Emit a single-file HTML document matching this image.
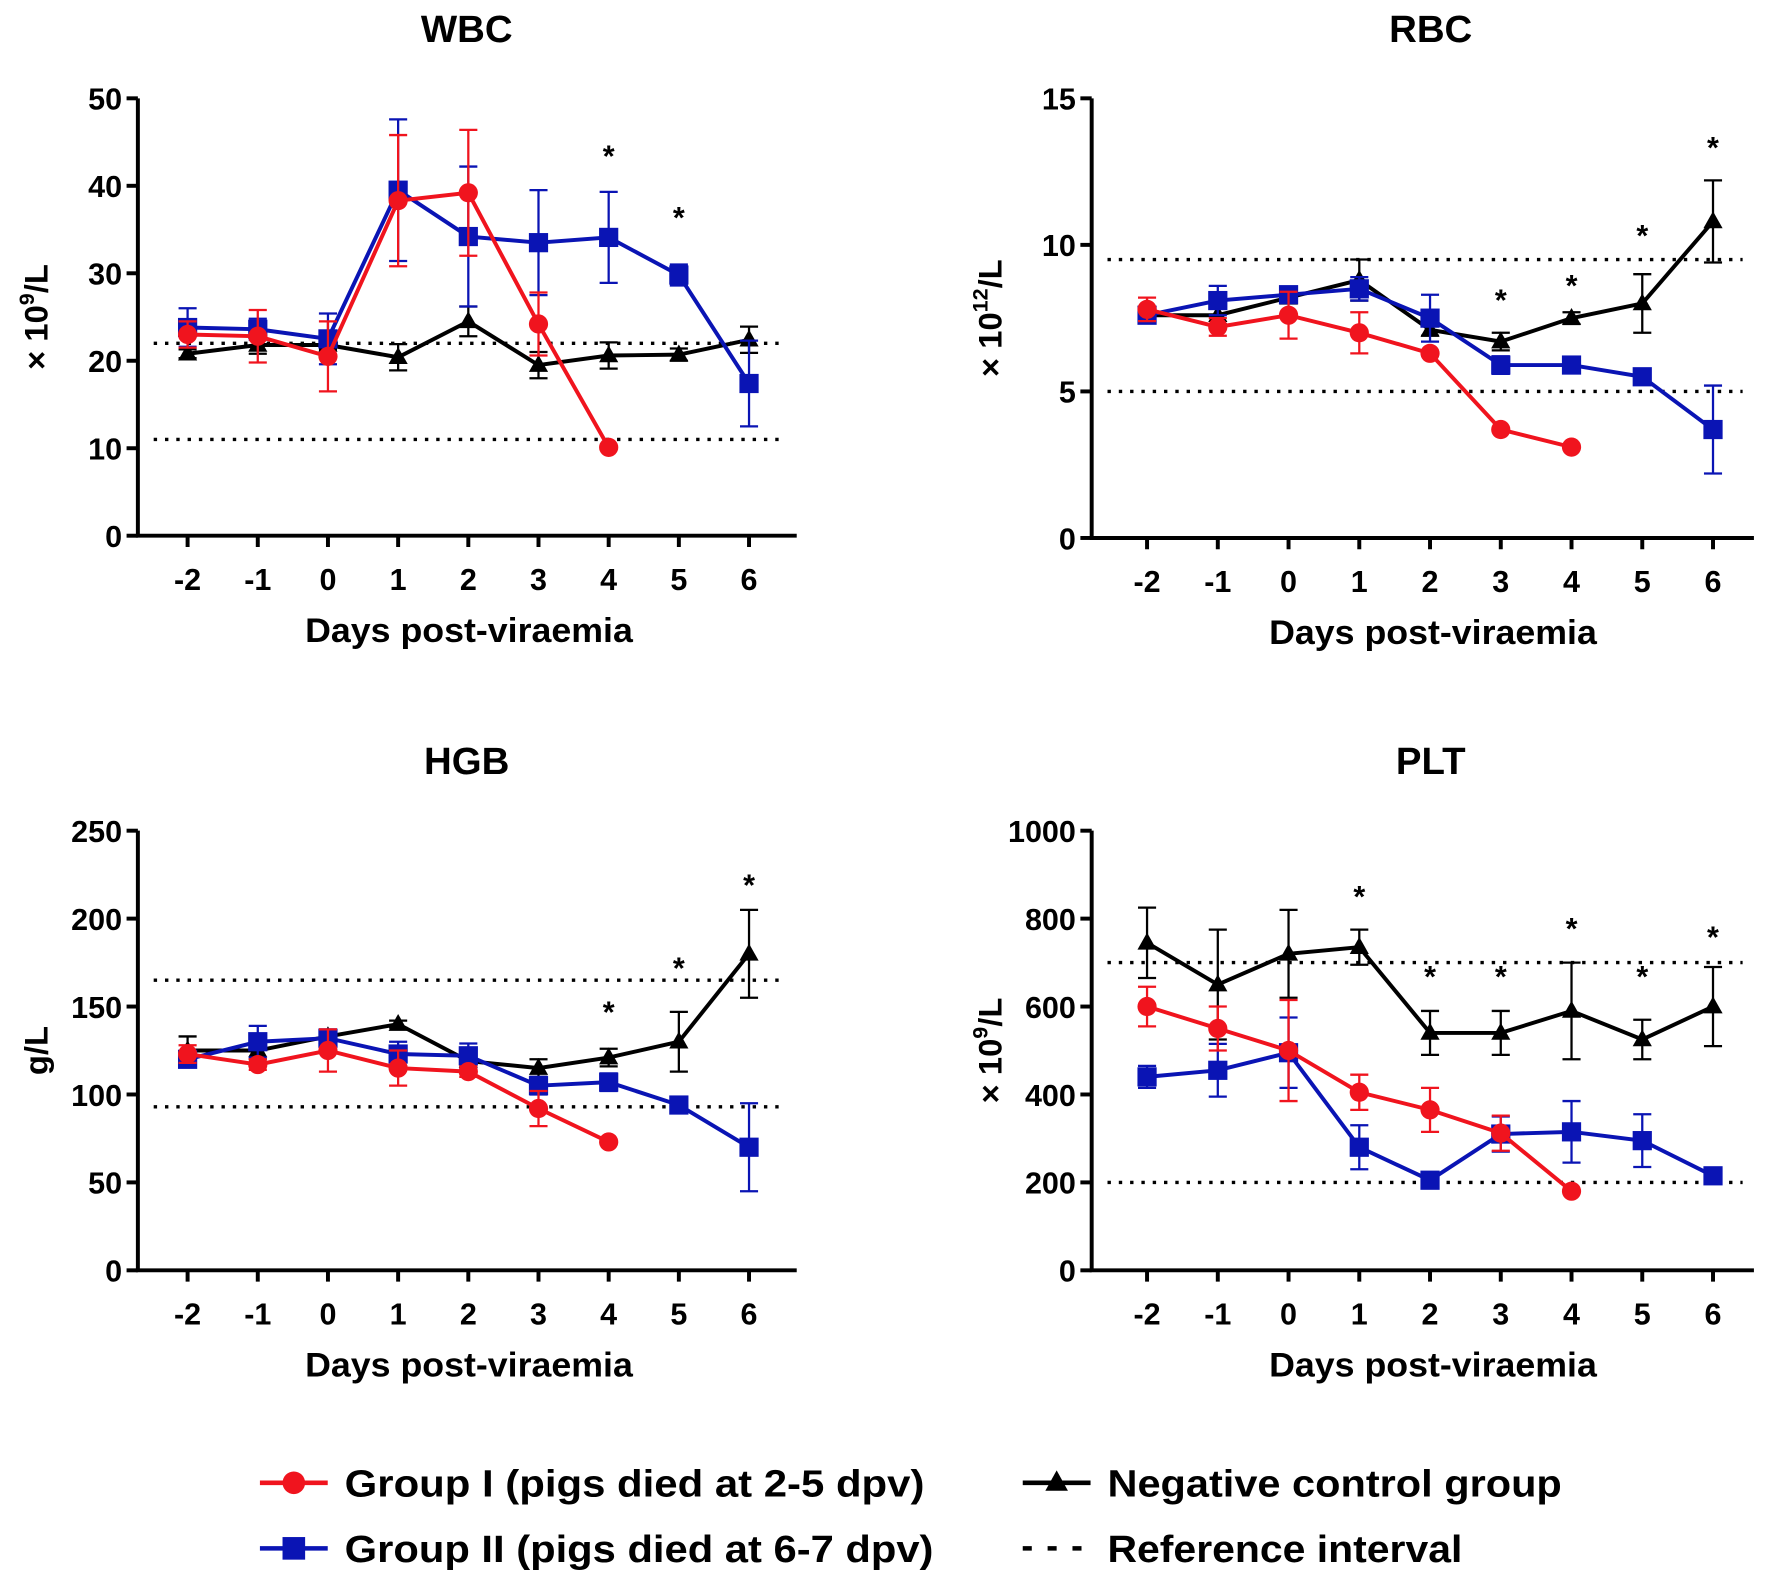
<!DOCTYPE html>
<html><head><meta charset="utf-8"><style>
html,body{margin:0;padding:0;background:#fff;}
svg{display:block;font-family:"Liberation Sans",Arial,sans-serif;font-weight:bold;}
</style></head><body>
<svg id="fig" width="1772" height="1580" viewBox="0 0 1568 1398" preserveAspectRatio="none" xmlns="http://www.w3.org/2000/svg"></svg>
<script>
const days = [-2,-1,0,1,2,3,4,5,6];
const wbcRed = [23,22.8,20.5,38.3,39.2,24.2,10.1];
const wbcRedErr = [1.5,3,4,7.5,7.2,3.6,0];
const wbcBlue = [23.8,23.6,22.5,39.5,34.2,33.5,34.1,29.8,17.4];
const wbcBlueErr = [2.2,1.2,2.9,8.1,8,6,5.2,1.2,4.9];
const wbcBlack = [20.8,21.8,21.8,20.4,24.5,19.5,20.6,20.7,22.4];
const wbcBlackErr = [0.5,1,0.5,1.5,1.7,1.5,1.5,0.7,1.5];
const wbcRef = [22,11];
const wbcStars = [[4,44],[5,37]];
const wbcTicks = [0,10,20,30,40,50];

const rbcRed = [7.8,7.2,7.6,7.0,6.3,3.7,3.1];
const rbcRedErr = [0.4,0.3,0.8,0.7,0,0,0];
const rbcBlue = [7.6,8.1,8.3,8.5,7.5,5.9,5.9,5.5,3.7];
const rbcBlueErr = [0.2,0.5,0.2,0.4,0.8,0.3,0,0,1.5];
const rbcBlack = [7.6,7.6,8.2,8.8,7.1,6.7,7.5,8.0,10.8];
const rbcBlackErr = [0.2,0.3,0.2,0.7,0.2,0.3,0.2,1.0,1.4];
const rbcRef = [9.5,5];
const rbcStars = [[3,8.3],[4,8.8],[5,10.5],[6,13.5]];
const rbcTicks = [0,5,10,15];

const hgbRed = [123,117,125,115,113,92,73];
const hgbRedErr = [5,3,12,10,3,10,0];
const hgbBlue = [120,130,132,123,122,105,107,94,70];
const hgbBlueErr = [3,9,5,7,7,5,5,2,25];
const hgbBlack = [125,125,133,140,119,115,121,130,180];
const hgbBlackErr = [8,5,3,2,3,5,5,17,25];
const hgbRef = [165,93];
const hgbStars = [[4,150],[5,175],[6,222]];
const hgbTicks = [0,50,100,150,200,250];

const pltRed = [600,550,500,405,365,312,180];
const pltRedErr = [45,50,115,40,50,40,0];
const pltBlue = [440,455,495,280,205,310,315,295,215];
const pltBlueErr = [25,60,80,50,15,40,70,60,10];
const pltBlack = [745,650,720,735,540,540,590,525,600];
const pltBlackErr = [80,125,100,40,50,50,110,45,90];
const pltRef = [700,200];
const pltStars = [[1,862],[2,680],[3,680],[4,790],[5,680],[6,770]];
const pltTicks = [0,200,400,600,800,1000];

const NS = "http://www.w3.org/2000/svg";
const svg = document.getElementById('fig');
function el(tag, attrs, parent){
  const e = document.createElementNS(NS, tag);
  for (const k in attrs) e.setAttribute(k, attrs[k]);
  (parent||svg).appendChild(e);
  return e;
}
const RED="#f0141e", BLUE="#0a14b4", BLACK="#000";

function panel(cfg){
  const g = el('g',{});
  
  
  const xs = d => cfg.x0 + (d - (-2)) * cfg.dx;
  const ys = v => cfg.yb - v / cfg.max * (cfg.yb - cfg.yt);
  const t = el('text',{x:cfg.tx,y:cfg.yt-50,'text-anchor':'middle','font-size':34},g);
  t.textContent = cfg.name.toUpperCase();
  
  
  const ax = el('path',{d:`M${cfg.ax},${cfg.yt} V${cfg.yb} H${cfg.axEnd}`,stroke:'#000','stroke-width':3.5,fill:'none'},g);
  
  
  cfg.ticks.forEach(v=>{
    el('line',{x1:cfg.ax-10,x2:cfg.ax,y1:ys(v),y2:ys(v),stroke:'#000','stroke-width':3.5},g);
    const tl = el('text',{x:cfg.ax-14,y:ys(v)+10,'text-anchor':'end','font-size':27},g);
    tl.textContent = v;
    
    
  });
  days.forEach(d=>{
    el('line',{x1:xs(d),x2:xs(d),y1:cfg.yb,y2:cfg.yb+10,stroke:'#000','stroke-width':3.5},g);
    const tl = el('text',{x:xs(d),y:cfg.yb+48,'text-anchor':'middle','font-size':27},g);
    tl.textContent = d;
    
    
  });
  const xt = el('text',{x:cfg.tx+2,y:cfg.yb+94,'text-anchor':'middle','font-size':30,textLength:290,lengthAdjust:'spacingAndGlyphs'},g);
  xt.textContent = 'Days post-viraemia';
  
  
  const ycx = cfg.ax-80, ycy = (cfg.yt+cfg.yb)/2;
  const yt = el('text',{x:ycx,y:ycy,'text-anchor':'middle','font-size':29,transform:`rotate(-90 ${ycx} ${ycy})`},g);
  yt.innerHTML = cfg.ylabel;
  
  
  cfg.ref.forEach(v=>{
    const l = el('line',{x1:cfg.ax+14,x2:cfg.axEnd-10,y1:ys(v),y2:ys(v),stroke:'#000','stroke-width':3,'stroke-dasharray':'3 7'},g);
    
    
  });
  const series = [
    {vals:cfg.black, err:cfg.blackErr, c:BLACK, m:'tri', n:'control'},
    {vals:cfg.blue, err:cfg.blueErr, c:BLUE, m:'sq', n:'group-ii'},
    {vals:cfg.red, err:cfg.redErr, c:RED, m:'circ', n:'group-i'}
  ];
  series.forEach(s=>{
    const sg = el('g',{},g);
    
    
    s.vals.forEach((v,i)=>{
      const e = s.err[i]; if(!e) return;
      const x = xs(days[i]);
      el('path',{d:`M${x},${ys(v-e)} V${ys(v+e)} M${x-8},${ys(v+e)} H${x+8} M${x-8},${ys(v-e)} H${x+8}`,stroke:s.c,'stroke-width':2,fill:'none'},sg);
    });
    const pts = s.vals.map((v,i)=>xs(days[i])+','+ys(v)).join(' ');
    el('polyline',{points:pts,stroke:s.c,'stroke-width':3.5,fill:'none'},sg);
    s.vals.forEach((v,i)=>{
      const x = xs(days[i]), y = ys(v); let mk;
      if(s.m==='circ') mk = el('circle',{cx:x,cy:y,r:8.5,fill:s.c},sg);
      else if(s.m==='sq') mk = el('rect',{x:x-8.5,y:y-8.5,width:17,height:17,fill:s.c},sg);
      else mk = el('path',{d:`M${x},${y-9} L${x+8.5},${y+6} L${x-8.5},${y+6} Z`,fill:s.c},sg);
      
      
    });
  });
  cfg.stars.forEach(([d,v])=>{
    const st = el('text',{x:xs(d),y:ys(v)+14,'text-anchor':'middle','font-size':27},g);
    st.textContent = '*';
    
    
  });
}

panel({name:'wbc',x0:166,dx:62.1,ax:122,axEnd:705,yt:87,yb:474,tx:413,max:50,ticks:wbcTicks,
  red:wbcRed,redErr:wbcRedErr,blue:wbcBlue,blueErr:wbcBlueErr,black:wbcBlack,blackErr:wbcBlackErr,ref:wbcRef,stars:wbcStars,
  ylabel:'× 10<tspan dy="-12" font-size="19">9</tspan><tspan dy="12">/L</tspan>'});
panel({name:'rbc',x0:1015,dx:62.6,ax:966,axEnd:1552,yt:87,yb:476,tx:1266,max:15,ticks:rbcTicks,
  red:rbcRed,redErr:rbcRedErr,blue:rbcBlue,blueErr:rbcBlueErr,black:rbcBlack,blackErr:rbcBlackErr,ref:rbcRef,stars:rbcStars,
  ylabel:'× 10<tspan dy="-12" font-size="19">12</tspan><tspan dy="12">/L</tspan>'});
panel({name:'hgb',x0:166,dx:62.1,ax:122,axEnd:705,yt:735,yb:1124,tx:413,max:250,ticks:hgbTicks,
  red:hgbRed,redErr:hgbRedErr,blue:hgbBlue,blueErr:hgbBlueErr,black:hgbBlack,blackErr:hgbBlackErr,ref:hgbRef,stars:hgbStars,
  ylabel:'g/L'});
panel({name:'plt',x0:1015,dx:62.6,ax:966,axEnd:1552,yt:735,yb:1124,tx:1266,max:1000,ticks:pltTicks,
  red:pltRed,redErr:pltRedErr,blue:pltBlue,blueErr:pltBlueErr,black:pltBlack,blackErr:pltBlackErr,ref:pltRef,stars:pltStars,
  ylabel:'× 10<tspan dy="-12" font-size="19">9</tspan><tspan dy="12">/L</tspan>'});

const lg = el('g',{});


function legendEntry(x,y,color,marker,label,w){
  const g = el('g',{},lg);
  
  
  if(marker==='dot'){
    el('line',{x1:x,x2:x+60,y1:y,y2:y,stroke:'#000','stroke-width':4,'stroke-dasharray':'8 14'},g);
  } else {
    el('line',{x1:x,x2:x+60,y1:y,y2:y,stroke:color,'stroke-width':4},g);
    const cx=x+30;
    if(marker==='circ') el('circle',{cx:cx,cy:y,r:10,fill:color},g);
    else if(marker==='sq') el('rect',{x:cx-10,y:y-10,width:20,height:20,fill:color},g);
    else el('path',{d:`M${cx},${y-11} L${cx+10},${y+7} L${cx-10},${y+7} Z`,fill:color},g);
  }
  const t = el('text',{x:x+75,y:y+12,'font-size':34,textLength:w,lengthAdjust:'spacingAndGlyphs'},g);
  t.textContent = label;
}
legendEntry(230,1312,RED,'circ','Group I (pigs died at 2-5 dpv)',513);
legendEntry(230,1370,BLUE,'sq','Group II (pigs died at 6-7 dpv)',521);
legendEntry(905,1312,BLACK,'tri','Negative control group',402);
legendEntry(905,1370,BLACK,'dot','Reference interval',314);
</script>
</body></html>
